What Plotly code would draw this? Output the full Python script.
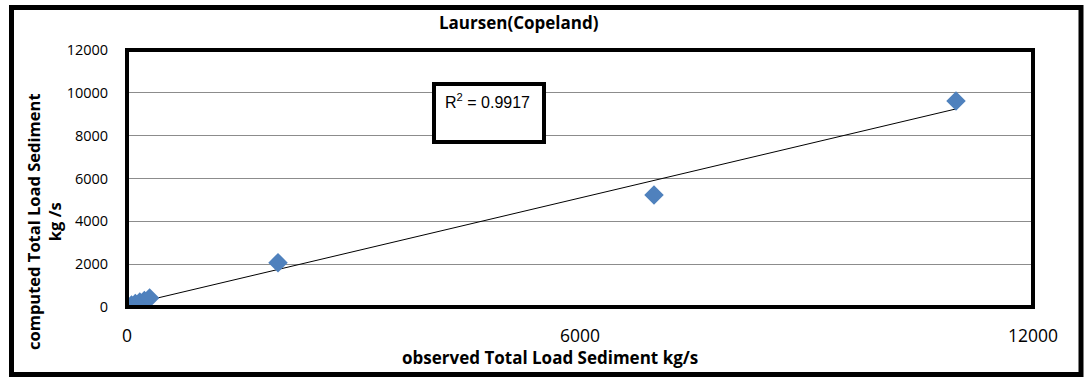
import numpy as np
import plotly.graph_objects as go

title = "Laursen(Copeland)"
x_title = "observed Total Load Sediment kg/s"
y_title = "computed Total Load Sediment<br>kg /s"
r2_label = "R<sup>2</sup> = 0.9917"

observed = [10, 60, 110, 170, 230, 300, 2000, 6980, 10980]
computed = [20, 90, 160, 230, 300, 420, 2070, 5230, 9620]

x_ticks = [0, 6000, 12000]
x_tick_text = ["0", "6000", "12000"]
y_ticks = [0, 2000, 4000, 6000, 8000, 10000, 12000]
y_tick_text = ["0", "2000", "4000", "6000", "8000", "10000", "12000"]

W, H = 1090, 384
L, R, T, B = 127, 1033, 50, 307  # plot area pixels

def px(xp):
    return (xp - L) / (R - L)

def py(yp):
    return (B - yp) / (B - T)

slope, intercept = np.polyfit(observed, computed, 1)
trend_x = [0, max(observed)]
trend_y = [intercept + slope * v for v in trend_x]

font = "'Open Sans', sans-serif"

fig = go.Figure()
fig.add_trace(go.Scatter(x=trend_x, y=trend_y, mode="lines",
                         line=dict(color="black", width=1), hoverinfo="skip"))
fig.add_trace(go.Scatter(x=observed, y=computed, mode="markers",
                         marker=dict(symbol="diamond", size=15, color="#4F81BD",
                                     line=dict(width=0))))

fig.update_layout(
    width=W, height=H,
    margin=dict(l=L, r=W - R, t=T, b=H - B),
    paper_bgcolor="white", plot_bgcolor="white",
    showlegend=False,
    font=dict(family=font, color="black", size=14),
    xaxis=dict(range=[0, 12000], tickvals=x_ticks, ticktext=x_tick_text,
               showgrid=False, zeroline=False,
               ticks="outside", ticklen=13, tickcolor="rgba(0,0,0,0)",
               showline=False, tickfont=dict(size=17.5)),
    yaxis=dict(range=[0, 12000], tickvals=y_ticks, ticktext=y_tick_text,
               showgrid=True, gridcolor="#8c8c8c", gridwidth=1, zeroline=False,
               ticks="outside", ticklen=15, tickcolor="rgba(0,0,0,0)",
               showline=False, tickfont=dict(size=14.5)),
)

shapes = [
    # outer border
    dict(type="rect", xref="paper", yref="paper",
         x0=px(11.5), x1=px(1081), y0=py(374.5), y1=py(7.5),
         line=dict(color="black", width=5), fillcolor="rgba(0,0,0,0)", layer="above"),
    # plot frame
    dict(type="rect", xref="paper", yref="paper",
         x0=px(L), x1=px(R), y0=0, y1=1,
         line=dict(color="black", width=4), fillcolor="rgba(0,0,0,0)", layer="above"),
    # R2 box
    dict(type="rect", xref="paper", yref="paper",
         x0=px(434), x1=px(544), y0=py(142), y1=py(84),
         line=dict(color="black", width=4), fillcolor="white", layer="above"),
]
fig.update_layout(shapes=shapes)

anns = [
    dict(text="<b>%s</b>" % title, xref="paper", yref="paper", x=px(519), y=py(23),
         showarrow=False, font=dict(size=17), xanchor="center", yanchor="middle"),
    dict(text="<b>%s</b>" % x_title, xref="paper", yref="paper", x=px(550), y=py(357),
         showarrow=False, font=dict(size=17), xanchor="center", yanchor="middle"),
    dict(text="<b>%s</b>" % y_title, xref="paper", yref="paper", x=px(44), y=py(222),
         showarrow=False, font=dict(size=16.5), textangle=-90,
         xanchor="center", yanchor="middle"),
    dict(text=r2_label, xref="paper", yref="paper", x=px(443), y=py(101),
         showarrow=False, font=dict(size=16, family="'Liberation Sans', Arial"),
         xanchor="left", yanchor="middle"),
]
fig.update_layout(annotations=anns)

fig.write_html("out.html", config={"displayModeBar": False},
               post_script="document.body.style.margin='0';")
